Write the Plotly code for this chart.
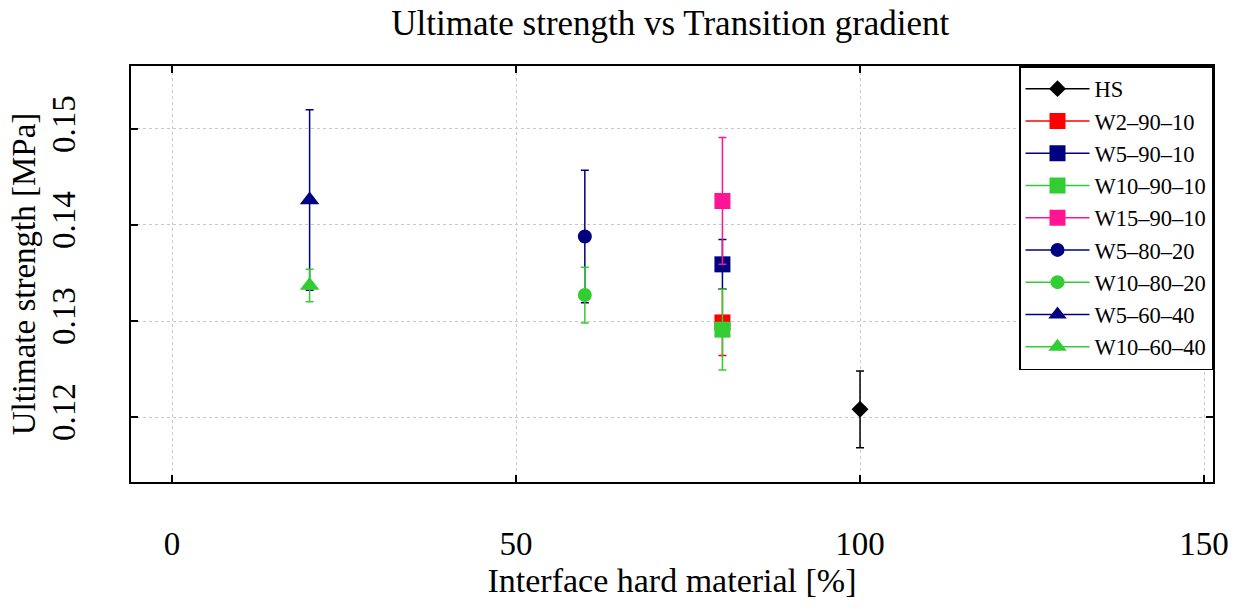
import plotly.graph_objects as go

names = ["HS", "W2\u201390\u201310", "W5\u201390\u201310", "W10\u201390\u201310", "W15\u201390\u201310",
         "W5\u201380\u201320", "W10\u201380\u201320", "W5\u201360\u201340", "W10\u201360\u201340"]
x_vals = [100, 80, 80, 80, 80, 60, 60, 20, 20]
y_vals = [0.1208, 0.12985, 0.1359, 0.1291, 0.1425, 0.1388, 0.1327, 0.1426, 0.1337]
y_err = [0.0040, 0.00345, 0.0026, 0.0042, 0.0066, 0.0069, 0.0029, 0.0094, 0.0017]
colors = ["#000000", "#ff0000", "#000080", "#32cd32", "#ff1493",
          "#000080", "#32cd32", "#000080", "#32cd32"]
symbols = ["diamond", "square", "square", "square", "square",
           "circle", "circle", "triangle-up", "triangle-up"]
sizes = [13, 16, 16, 16, 16, 14, 14, 17, 17]

fig = go.Figure()
for n, xv, yv, e, c, s, sz in zip(names, x_vals, y_vals, y_err, colors, symbols, sizes):
    fig.add_trace(go.Scatter(
        x=[xv], y=[yv], name=n, mode="lines+markers",
        line=dict(color=c, width=1.5),
        marker=dict(color=c, symbol=s, size=sz, line=dict(width=0)),
        error_y=dict(type="data", array=[e], color=c, thickness=1.5, width=4, visible=True),
    ))

font_family = "Liberation Serif, Times New Roman, serif"
fig.update_layout(
    width=1246, height=609,
    margin=dict(l=131, r=33, t=66, b=127),
    paper_bgcolor="white", plot_bgcolor="white",
    font=dict(family=font_family, color="black"),
    title=dict(text="Ultimate strength vs Transition gradient", x=0.538, xanchor="center",
               y=0.962, yanchor="middle", font=dict(size=35, family=font_family)),
    showlegend=True,
    legend=dict(x=1, y=1, xanchor="right", yanchor="top", bordercolor="black", borderwidth=1.5,
                bgcolor="white", font=dict(size=22.5, family=font_family), itemwidth=64,
                tracegroupgap=0),
)
fig.update_xaxes(
    range=[-5.96, 151.3], tickvals=[0, 50, 100, 150], ticktext=["0", "50", "100", "150"],
    showgrid=True, gridcolor="#c8c8c8", griddash="dot", gridwidth=1,
    zeroline=False, showline=True, linecolor="black", linewidth=1.5, mirror="ticks",
    ticks="inside", ticklen=7, tickcolor="black", tickwidth=1.5,
    tickfont=dict(size=33, family=font_family), ticklabelstandoff=32,
    title=dict(text="Interface hard material [%]", font=dict(size=34, family=font_family), standoff=0),
)
fig.update_yaxes(
    range=[0.11323, 0.15656], tickvals=[0.12, 0.13, 0.14, 0.15],
    ticktext=["0.12", "0.13", "0.14", "0.15"],
    showgrid=True, gridcolor="#c8c8c8", griddash="dot", gridwidth=1,
    zeroline=False, showline=True, linecolor="black", linewidth=1.5, mirror="ticks",
    ticks="inside", ticklen=7, tickcolor="black", tickwidth=1.5, tickangle=-90,
    tickfont=dict(size=33, family=font_family), ticklabelstandoff=41,
    title=dict(text="Ultimate strength [MPa]", font=dict(size=33, family=font_family), standoff=0),
)
fig.write_html("out.html")
